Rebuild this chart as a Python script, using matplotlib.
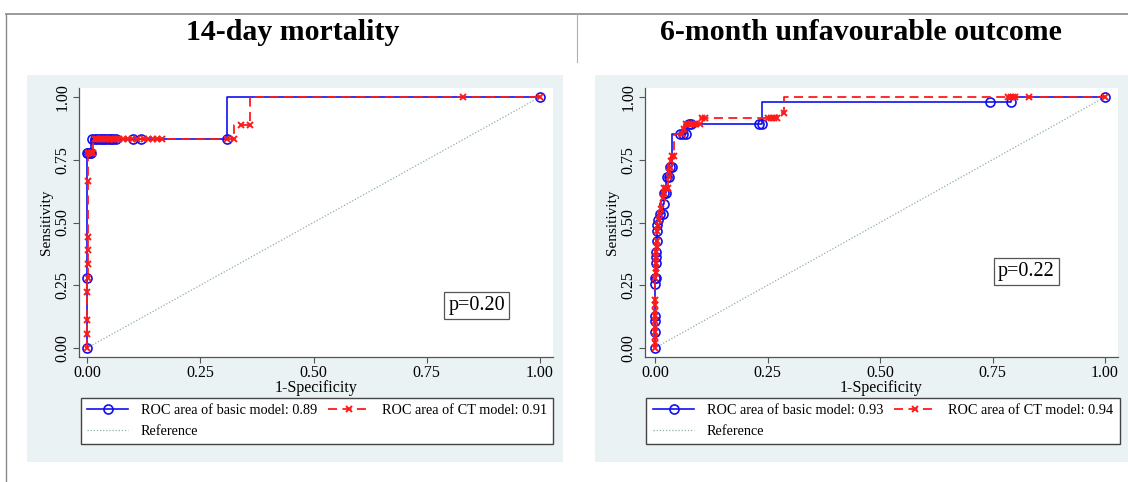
import matplotlib
matplotlib.use("Agg")
import matplotlib.pyplot as plt
from matplotlib.lines import Line2D
from matplotlib.patches import Rectangle

plt.rcParams['font.family'] = ['Liberation Serif', 'DejaVu Serif']

# ---------------- data ----------------
titles = ["14-day mortality", "6-month unfavourable outcome"]
p_labels = ["p=0.20", "p=0.22"]
basic_labels = ["ROC area of basic model: 0.89", "ROC area of basic model: 0.93"]
ct_labels = ["ROC area of CT model: 0.91", "ROC area of CT model: 0.94"]
ref_label = "Reference"
x_ticks = [0.0, 0.25, 0.5, 0.75, 1.0]
tick_labels = ["0.00", "0.25", "0.50", "0.75", "1.00"]

# 14-day mortality, basic model
fpr_basic_14d = [0, 0, 0, 0.003, 0.006, 0.009, 0.012, 0.018, 0.023, 0.028, 0.033,
                 0.038, 0.043, 0.048, 0.053, 0.058, 0.063, 0.102, 0.120, 0.310, 1.0]
tpr_basic_14d = [0, 0.278, 0.778, 0.778, 0.778, 0.778, 0.833, 0.833, 0.833, 0.833, 0.833,
                 0.833, 0.833, 0.833, 0.833, 0.833, 0.833, 0.833, 0.833, 0.833, 1.0]

# 14-day mortality, CT model
fpr_ct_14d = [0, 0.001, 0.001, 0.001, 0.002, 0.002, 0.002, 0.003, 0.003, 0.003,
              0.005, 0.008, 0.011, 0.014,
              0.018, 0.022, 0.026, 0.030, 0.034, 0.038, 0.042, 0.046, 0.050, 0.054,
              0.058, 0.062, 0.066, 0.070,
              0.080, 0.090, 0.100, 0.110, 0.125, 0.135, 0.145, 0.155, 0.165,
              0.310, 0.325, 0.340, 0.360, 0.830, 1.0]
tpr_ct_14d = [0, 0.056, 0.111, 0.222, 0.278, 0.333, 0.389, 0.444, 0.667, 0.778,
              0.778, 0.778, 0.778, 0.778,
              0.833, 0.833, 0.833, 0.833, 0.833, 0.833, 0.833, 0.833, 0.833, 0.833,
              0.833, 0.833, 0.833, 0.833,
              0.833, 0.833, 0.833, 0.833, 0.833, 0.833, 0.833, 0.833, 0.833,
              0.833, 0.833, 0.889, 0.889, 1.0, 1.0]

# 6-month unfavourable outcome, basic model
fpr_basic_6m = [0, 0, 0, 0, 0, 0.001, 0.003, 0.003, 0.003, 0.003, 0.005, 0.005, 0.005,
                0.006, 0.012, 0.018, 0.019, 0.021, 0.025, 0.026, 0.031, 0.033, 0.037,
                0.056, 0.063, 0.069, 0.076, 0.080, 0.230, 0.237, 0.745, 0.790, 1.0]
tpr_basic_6m = [0, 0.064, 0.106, 0.128, 0.255, 0.277, 0.277, 0.340, 0.362, 0.383, 0.426,
                0.468, 0.489, 0.511, 0.532, 0.532, 0.574, 0.617, 0.617, 0.681, 0.681,
                0.723, 0.723, 0.851, 0.851, 0.851, 0.894, 0.894, 0.894, 0.894, 0.979,
                0.979, 1.0]

# 6-month unfavourable outcome, CT model
fpr_ct_6m = [0, 0, 0, 0, 0, 0, 0, 0, 0, 0, 0.001, 0.002, 0.002, 0.002, 0.003, 0.003,
             0.004, 0.004, 0.005, 0.006, 0.008, 0.011, 0.014, 0.017, 0.019, 0.021,
             0.024, 0.028, 0.030, 0.032, 0.034, 0.036, 0.038, 0.042, 0.060, 0.064,
             0.068, 0.074, 0.080, 0.086, 0.092, 0.099, 0.104, 0.112, 0.250, 0.258,
             0.265, 0.272, 0.287, 0.785, 0.790, 0.795, 0.800, 0.830, 1.0]
tpr_ct_6m = [0, 0.021, 0.043, 0.064, 0.085, 0.106, 0.128, 0.149, 0.170, 0.191, 0.277,
             0.298, 0.319, 0.340, 0.362, 0.383, 0.404, 0.426, 0.468, 0.489, 0.511,
             0.532, 0.553, 0.596, 0.617, 0.638, 0.638, 0.638, 0.681, 0.702, 0.723,
             0.745, 0.766, 0.766, 0.851, 0.872, 0.894, 0.894, 0.894, 0.894, 0.894,
             0.894, 0.915, 0.915, 0.915, 0.915, 0.915, 0.915, 0.936, 1.0, 1.0, 1.0,
             1.0, 1.0, 1.0]

ref_x = [0, 1]
ref_y = [0, 1]

basic = [(fpr_basic_14d, tpr_basic_14d), (fpr_basic_6m, tpr_basic_6m)]
ct = [(fpr_ct_14d, tpr_ct_14d), (fpr_ct_6m, tpr_ct_6m)]
p_pos = [(0.86, 0.17), (0.825, 0.305)]

# ---------------- styling ----------------
W, H = 1128, 482
BG = '#EAF2F3'
BLUE = '#1010F0'
RED = '#FF1A1A'
REFC = '#8DAFA6'

fig = plt.figure(figsize=(W / 100, H / 100), dpi=100)
fig.patch.set_facecolor('white')


def fx(px):
    return px / W


def fy(py):
    return 1 - py / H


# frame lines
fig.add_artist(Line2D([fx(6), fx(W)], [fy(14), fy(14)], color='#8a8a8a', lw=1.2))
fig.add_artist(Line2D([fx(6), fx(6)], [fy(14), fy(H)], color='#8a8a8a', lw=1.0))
fig.add_artist(Line2D([fx(577), fx(577)], [fy(14), fy(62)], color='#b0b0b0', lw=0.8))

panels = [
    dict(bg=(27, 75, 563, 462), ax=(79, 88, 553, 357), x0=87, x1=540, title_x=293,
         leg_cx=317),
    dict(bg=(595, 75, 1128, 462), ax=(645, 88, 1118, 357), x0=655, x1=1105, title_x=861,
         leg_cx=883),
]
y_at1, y_at0 = 97, 348
leg_top = 398

for i, pnl in enumerate(panels):
    bx0, by0, bx1, by1 = pnl['bg']
    fig.add_artist(Rectangle((fx(bx0), fy(by1)), fx(bx1 - bx0), (by1 - by0) / H,
                             transform=fig.transFigure, facecolor=BG, edgecolor='none',
                             zorder=0))
    fig.text(fx(pnl['title_x']), fy(33), titles[i], ha='center', va='center',
             fontsize=21.5, fontweight='bold')

    ax0, ay0, ax1, ay1 = pnl['ax']
    ax = fig.add_axes([fx(ax0), fy(ay1), fx(ax1 - ax0), (ay1 - ay0) / H])
    ax.set_facecolor('white')
    sx = pnl['x1'] - pnl['x0']
    ax.set_xlim((ax0 - pnl['x0']) / sx, (ax1 - pnl['x0']) / sx)
    sy = y_at0 - y_at1
    ax.set_ylim(-(ay1 - y_at0) / sy, 1 + (y_at1 - ay0) / sy)

    for s in ['top', 'right']:
        ax.spines[s].set_visible(False)
    for s in ['left', 'bottom']:
        ax.spines[s].set_color('#555555')
        ax.spines[s].set_linewidth(0.9)

    ax.set_xticks(x_ticks)
    ax.set_xticklabels(tick_labels)
    ax.set_yticks(x_ticks)
    ax.set_yticklabels(tick_labels, rotation=90, va='center')
    ax.tick_params(direction='out', length=4, width=0.8, color='#555555',
                   labelsize=11.5, pad=2)
    ax.set_xlabel('1-Specificity', fontsize=11.5, labelpad=-1)
    ax.set_ylabel('Sensitivity', fontsize=11, labelpad=1)

    # reference line
    ax.plot(ref_x, ref_y, linestyle=(0, (1, 1.5)), color=REFC, lw=0.9, zorder=1)

    # basic model
    fb, tb = basic[i]
    ax.plot(fb, tb, drawstyle='steps-pre', color=BLUE, lw=1.2, zorder=2)
    ax.plot(fb, tb, linestyle='none', marker='o', ms=6.5, mfc='none', mec=BLUE,
            mew=1.2, zorder=3)

    # CT model
    fc, tc = ct[i]
    ax.plot(fc, tc, drawstyle='steps-pre', color=RED, lw=1.3, linestyle=(0, (5, 3)),
            zorder=4)
    ax.plot(fc, tc, linestyle='none', marker='x', ms=3.8, mec=RED, mew=1.4, zorder=5)

    # p value box
    px, py = p_pos[i]
    ax.text(px, py, p_labels[i], ha='center', va='center', fontsize=14.5,
            bbox=dict(boxstyle='square,pad=0.2', fc='white', ec='#555555', lw=0.9),
            zorder=6)

    # legend
    h_basic = Line2D([], [], color=BLUE, lw=1.2, marker='o', ms=6.5, mfc='none',
                     mec=BLUE, mew=1.2)
    h_ref = Line2D([], [], color=REFC, lw=0.9, linestyle=(0, (1, 1.5)))
    h_ct = Line2D([], [], color=RED, lw=1.3, linestyle=(0, (5, 3)), marker='x',
                  ms=3.8, mec=RED, mew=1.4)
    leg = ax.legend([h_basic, h_ref, h_ct], [basic_labels[i], ref_label, ct_labels[i]],
                    ncol=2, loc='upper center',
                    bbox_to_anchor=(fx(pnl['leg_cx']), fy(leg_top)),
                    bbox_transform=fig.transFigure, frameon=True, fancybox=False,
                    framealpha=1.0, facecolor='white',
                    edgecolor='#444444', fontsize=10.3, handlelength=2.9,
                    handletextpad=0.85, borderaxespad=0, borderpad=0.45,
                    labelspacing=0.5, columnspacing=0.8, numpoints=1)
    leg.get_frame().set_linewidth(1.0)

fig.savefig('out.png', dpi=100, facecolor='white')
